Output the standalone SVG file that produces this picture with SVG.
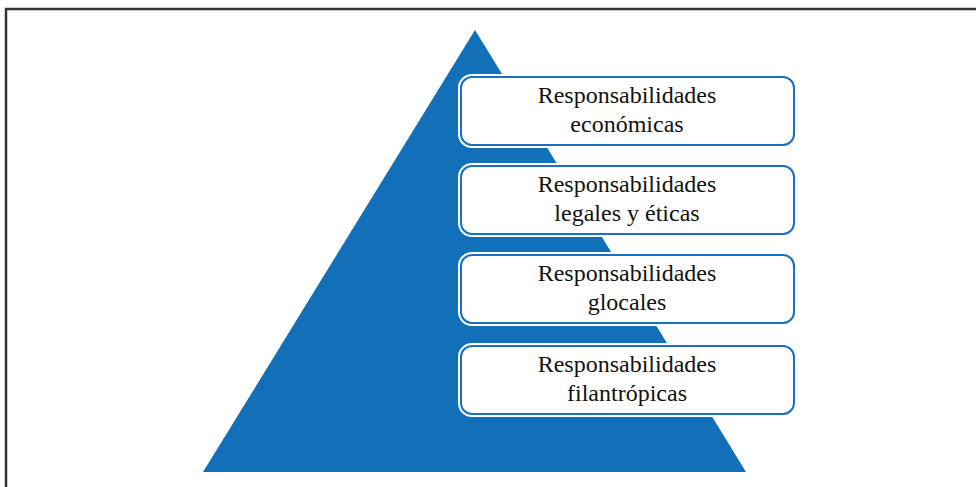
<svg xmlns="http://www.w3.org/2000/svg" width="976" height="487" viewBox="0 0 976 487">
<style>
.halo{fill:none;stroke:#ffffff;stroke-width:6}
.box{fill:#ffffff;stroke:#1a6fc0;stroke-width:2}
.t{font-family:"Liberation Serif","Times New Roman",serif;font-size:24px;fill:#111111;text-anchor:middle}
</style>
<rect x="0" y="0" width="976" height="487" fill="#ffffff"/>
<rect x="6" y="9" width="1000" height="500" fill="none" stroke="#333333" stroke-width="2.5"/>
<polygon id="pyramid" points="475,30 746,472 203,472" fill="#1170b8"/>
<g id="n1">
<rect class="halo" x="461" y="77" width="333" height="68" rx="11"/>
<rect class="box" x="461" y="77" width="333" height="68" rx="11"/>
<text class="t" x="627" y="103">Responsabilidades</text>
<text class="t" x="627" y="132">económicas</text>
</g>
<g id="n2">
<rect class="halo" x="461" y="166" width="333" height="68" rx="11"/>
<rect class="box" x="461" y="166" width="333" height="68" rx="11"/>
<text class="t" x="627" y="192">Responsabilidades</text>
<text class="t" x="627" y="221">legales y éticas</text>
</g>
<g id="n3">
<rect class="halo" x="461" y="255" width="333" height="68" rx="11"/>
<rect class="box" x="461" y="255" width="333" height="68" rx="11"/>
<text class="t" x="627" y="281">Responsabilidades</text>
<text class="t" x="627" y="310">glocales</text>
</g>
<g id="n4">
<rect class="halo" x="461" y="346" width="333" height="68" rx="11"/>
<rect class="box" x="461" y="346" width="333" height="68" rx="11"/>
<text class="t" x="627" y="372">Responsabilidades</text>
<text class="t" x="627" y="401">filantrópicas</text>
</g>
<g id="connectors"></g>
</svg>
